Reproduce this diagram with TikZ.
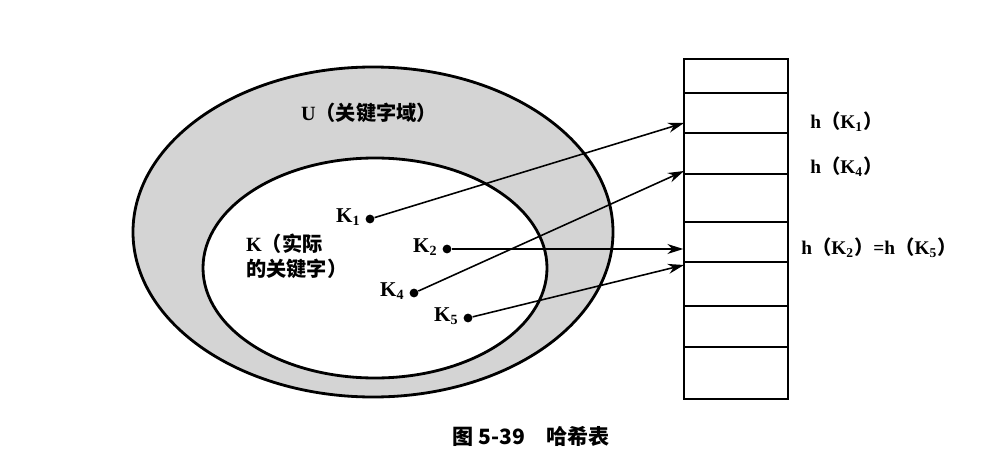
\documentclass[tikz,border=0pt]{standalone}
\usepackage{fontspec}
\setmainfont{Liberation Serif}
\newfontfamily\cjk{Noto Sans CJK SC}
\usetikzlibrary{shapes.geometric, arrows.meta, positioning}
\newcommand{\ksub}[1]{K\textsubscript{#1}}

\begin{document}
\begin{tikzpicture}[
    x=0.2mm, y=-0.2mm,
    font=\fontsize{11}{14}\selectfont,
    keyset/.style={ellipse, draw, line width=1.6pt, fill=black!17,
                   minimum width=96mm, minimum height=66mm},
    actualset/.style={ellipse, draw, line width=1.6pt, fill=white,
                   minimum width=68.8mm, minimum height=44mm},
    keydot/.style={circle, fill, inner sep=0pt, minimum size=5pt},
    keylabel/.style={font=\fontsize{12}{14}\selectfont\bfseries, inner sep=1pt},
    hashlabel/.style={font=\fontsize{11}{13}\selectfont\bfseries, anchor=west, inner sep=0pt},
    hashtable/.style={draw, line width=0.8pt, minimum width=20.8mm,
                  minimum height=68mm, inner sep=0pt},
    arrow/.style={-{Stealth[length=3.2mm, width=2mm]}, line width=0.9pt},
]
\useasboundingbox (0,0) rectangle (994,464);

% Key sets
\node[keyset] (U) at (373,232) {};
\node[actualset] (K) at (375,268) {};
\node[font=\fontsize{11.5}{14}\selectfont] (ulabel) at (369,113)
    {\textbf{U}{\cjk\bfseries （关键字域）}};
\node[anchor=west, align=left, font=\fontsize{11.5}{14}\selectfont]
    (klabel) at (240,256) {\textbf{K}{\cjk\bfseries （实际}\\{\cjk\bfseries 的关键字）}};

% Keys
\node[keydot] (k1) at (370,219) {};
\node[keydot] (k2) at (447,249) {};
\node[keydot] (k4) at (414,293) {};
\node[keydot] (k5) at (468,318) {};
\node[keylabel, left=1.5pt of k1, yshift=1pt] {\ksub{1}};
\node[keylabel, left=1.5pt of k2, yshift=1pt] {\ksub{2}};
\node[keylabel, left=1.5pt of k4, yshift=1pt] {\ksub{4}};
\node[keylabel, left=1.5pt of k5, yshift=1pt] {\ksub{5}};

% Hash table
\node[hashtable] (tab) at (736,229) {};
\foreach \y in {93,133,174,222,262,306,347}
    \draw[line width=0.8pt] (684,\y) -- (788,\y);
\coordinate (h1) at (684,123);
\coordinate (h4) at (684,171);
\coordinate (h5) at (684,265);

\node[hashlabel] (hk1) at (810,122) {h{\cjk（}\ksub{1}{\cjk）}};
\node[hashlabel] (hk4) at (810,167) {h{\cjk（}\ksub{4}{\cjk）}};
\node[hashlabel] (hk25) at (801,248)
    {h{\cjk（}\ksub{2}{\cjk）}=h{\cjk（}\ksub{5}{\cjk）}};

% Arrows
\draw[arrow] (k1) -- (h1);
\draw[arrow] (k4) -- (h4);
\draw[arrow] (k2) -- (tab.west |- k2);
\draw[arrow] (k5) -- (h5);

% Caption
\node[font=\cjk\bfseries\fontsize{12}{14}\selectfont] (caption) at (531,436)
    {图 5-39\quad 哈希表};
\end{tikzpicture}
\end{document}
